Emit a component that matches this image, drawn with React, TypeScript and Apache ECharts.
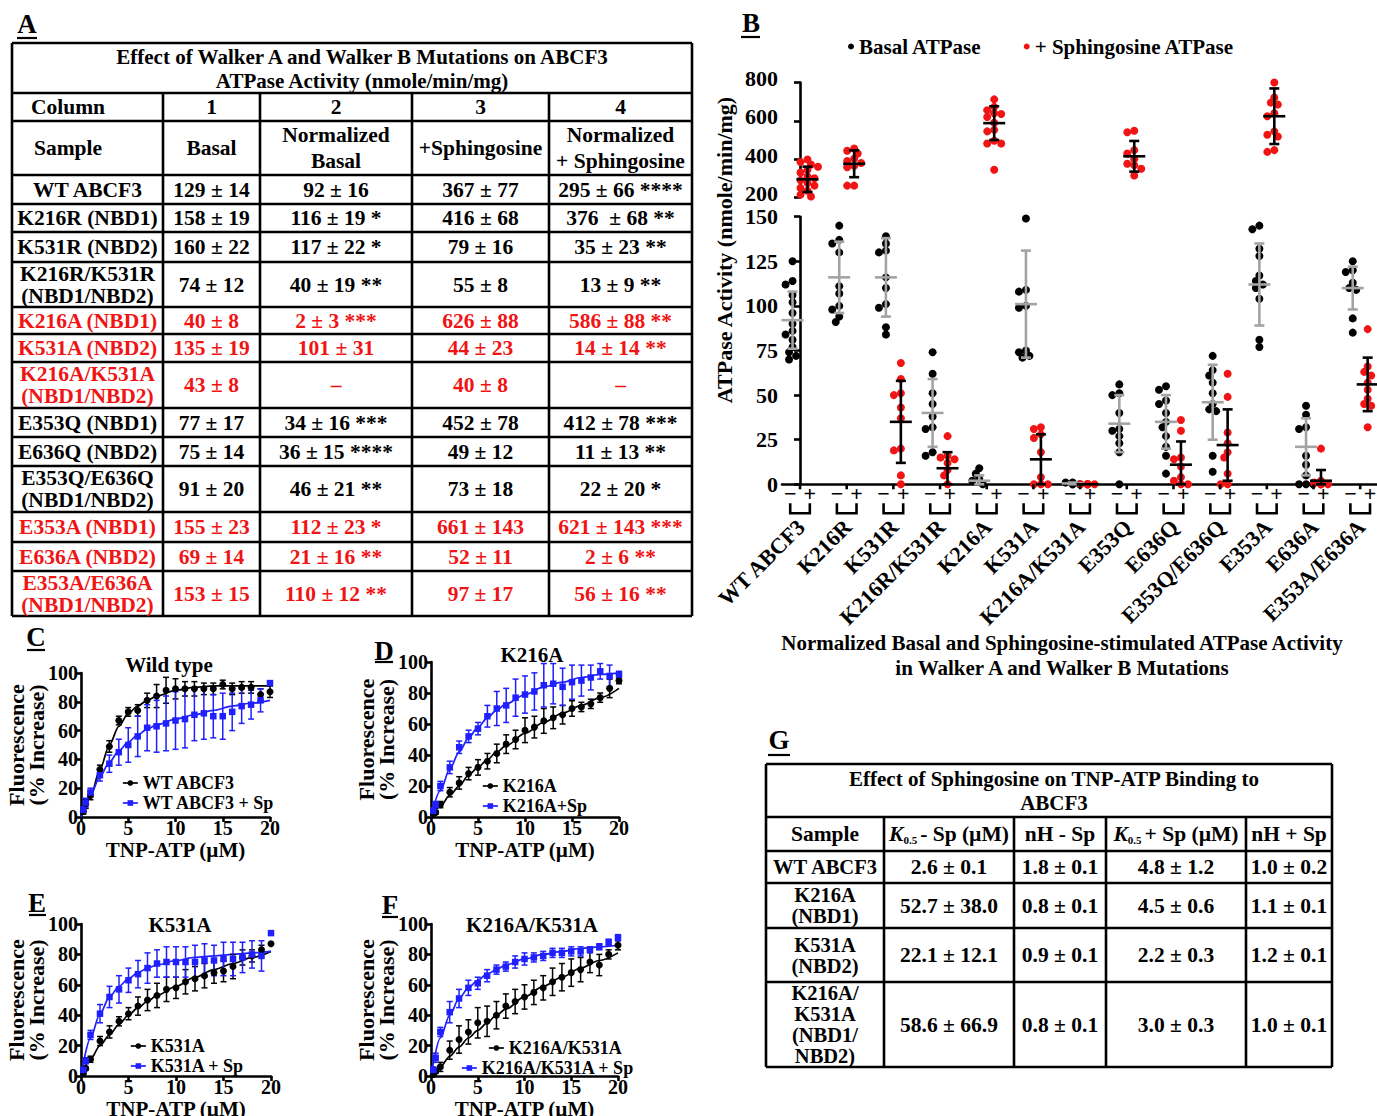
import React, { useEffect, useRef } from "react";
import * as echarts from "echarts";

const FONT = "'Liberation Serif', 'Times New Roman', Times, serif";
const BLACK = "#000000";
const RED = "#f01414";
const BLUE = "#1f1fff";
const GRAY = "#a3a3a3";

// ---------------- Panel B data ----------------
const groupNames = ["WT ABCF3", "K216R", "K531R", "K216R/K531R", "K216A", "K531A", "K216A/K531A", "E353Q", "E636Q", "E353Q/E636Q", "E353A", "E636A", "E353A/E636A"];
const basalDots = [
  [125, 114, 112, 106, 102, 96, 90, 86, 84, 81, 77, 74, 72, 70],
  [145, 137, 135, 130, 111, 107, 100, 98, 94, 91],
  [139, 135, 131, 130, 116, 110, 101, 99, 88, 84],
  [74, 62, 51, 45, 38, 32, 31, 18, 16],
  [9, 6, 3, 2, 0],
  [149, 109, 108, 100, 99, 75, 74, 72, 71],
  [1, 1, 0, 0, 0],
  [56, 51, 50, 40, 31, 30, 27, 23, 18, 0],
  [55, 53, 47, 45, 40, 35, 32, 27, 21, 16, 6],
  [72, 64, 61, 57, 51, 45, 42, 41, 16, 7],
  [145, 143, 132, 128, 117, 114, 112, 110, 104, 81, 77],
  [44, 39, 32, 31, 16, 11, 5, 0, 0, 0],
  [125, 120, 119, 113, 110, 109, 93, 85],
];
const sphDots = [
  [398, 385, 372, 360, 345, 330, 310, 300, 290, 275, 262, 250, 235, 215, 205],
  [456, 444, 430, 403, 390, 380, 365, 358, 262, 262],
  [68, 59, 51, 50, 43, 37, 20, 19, 5, 0],
  [27, 16, 15, 14, 12, 8, 5, 0],
  [712, 673, 655, 640, 636, 620, 590, 553, 545, 496, 482, 482, 345],
  [32, 31, 28, 26, 18, 4, 0, 0, 0],
  [0, 0, 0, 0, 0, 0],
  [548, 540, 447, 430, 400, 376, 368, 350, 315],
  [36, 30, 15, 14, 10, 4, 2, 0, 0],
  [62, 49, 29, 23, 18, 15, 6, 0, 0],
  [800, 722, 695, 685, 640, 624, 545, 527, 518, 447, 438],
  [20, 2, 1, 0, 0, 0, 0],
  [87, 66, 63, 61, 57, 53, 48, 45, 44, 32],
];
const basalMean = [92, 116, 116, 40, 2, 101, 0.5, 34, 35, 46, 112, 21, 110];
const basalSD = [16, 20, 22, 19, 3, 30, 0.5, 16, 15, 21, 23, 16, 12];
const sphMean = [295, 376, 35, 9, 588, 14, 0, 415, 11, 22, 624, 2, 56];
const sphSD = [66, 70, 23, 9, 88, 14, 0, 80, 13, 20, 145, 6, 15];

// ---------------- Panel A table ----------------
const tableATitle = ["Effect of Walker A and Walker B Mutations on ABCF3", "ATPase Activity (nmole/min/mg)"];
const tableAColumnRow = ["Column", "1", "2", "3", "4"];
const tableAHeader = ["Sample", "Basal", "Normalized\nBasal", "+Sphingosine", "Normalized\n+ Sphingosine"];
const tableASamples = ["WT ABCF3", "K216R (NBD1)", "K531R (NBD2)", "K216R/K531R\n(NBD1/NBD2)", "K216A (NBD1)", "K531A (NBD2)", "K216A/K531A\n(NBD1/NBD2)", "E353Q (NBD1)", "E636Q (NBD2)", "E353Q/E636Q\n(NBD1/NBD2)", "E353A (NBD1)", "E636A (NBD2)", "E353A/E636A\n(NBD1/NBD2)"];
const tableABasal = ["129 ± 14", "158 ± 19", "160 ± 22", "74 ± 12", "40 ± 8", "135 ± 19", "43 ± 8", "77 ± 17", "75 ± 14", "91 ± 20", "155 ± 23", "69 ± 14", "153 ± 15"];
const tableANormBasal = ["92 ± 16", "116 ± 19 *", "117 ± 22 *", "40 ± 19 **", "2 ± 3 ***", "101 ± 31", "–", "34 ± 16 ***", "36 ± 15 ****", "46 ± 21 **", "112 ± 23 *", "21 ± 16 **", "110 ± 12 **"];
const tableASph = ["367 ± 77", "416 ± 68", "79 ± 16", "55 ± 8", "626 ± 88", "44 ± 23", "40 ± 8", "452 ± 78", "49 ± 12", "73 ± 18", "661 ± 143", "52 ± 11", "97 ± 17"];
const tableANormSph = ["295 ± 66 ****", "376  ± 68 **", "35 ± 23 **", "13 ± 9 **", "586 ± 88 **", "14 ± 14 **", "–", "412 ± 78 ***", "11 ± 13 **", "22 ± 20 *", "621 ± 143 ***", "2 ± 6 **", "56 ± 16 **"];
const tableARed = [false, false, false, false, true, true, true, false, false, false, true, true, true];

// ---------------- Panel G table ----------------
const tableGTitle = ["Effect of Sphingosine on TNP-ATP Binding to", "ABCF3"];
const tableGHeader = ["Sample", "{k|K}{s|0.5}{n|- Sp (µM)}", "nH - Sp", "{k|K}{s|0.5}{n|+ Sp (µM)}", "nH + Sp"];
const tableGSamples = ["WT ABCF3", "K216A\n(NBD1)", "K531A\n(NBD2)", "K216A/\nK531A\n(NBD1/\nNBD2)"];
const tableGK05Minus = ["2.6 ± 0.1", "52.7 ± 38.0", "22.1 ± 12.1", "58.6 ± 66.9"];
const tableGnHMinus = ["1.8 ± 0.1", "0.8 ± 0.1", "0.9 ± 0.1", "0.8 ± 0.1"];
const tableGK05Plus = ["4.8 ± 1.2", "4.5 ± 0.6", "2.2 ± 0.3", "3.0 ± 0.3"];
const tableGnHPlus = ["1.0 ± 0.2", "1.1 ± 0.1", "1.2 ± 0.1", "1.0 ± 0.1"];

// ---------------- Panels C–F data ----------------
const tnpX = [0.25, 0.5, 1, 2, 3, 4, 5, 6, 7, 8, 9, 10, 11, 12, 13, 14, 15, 16, 17, 18, 19, 20];
const fitX = [0, 1, 2, 3, 4, 5, 6, 7, 8, 10, 12, 14, 16, 18, 20];

const wtMean = [4, 9, 15, 33, 49, 67, 73, 74, 81, 84, 88, 89, 89, 89, 89, 89, 92, 89, 90, 90, 85, 87];
const wtSD = [2, 3, 3, 3, 4, 3, 3, 4, 5, 8, 9, 7, 5, 5, 4, 4, 3, 4, 4, 4, 4, 4];
const wtSpMean = [5, 10, 17, 29, 37, 45, 50, 56, 62, 63, 65, 67, 68, 71, 72, 70, 70, 73, 77, 78, 81, 93];
const wtSpSD = [2, 3, 3, 4, 6, 9, 12, 14, 16, 18, 19, 20, 20, 18, 18, 15, 16, 13, 12, 10, 8, 0];
const wtFit = [0, 14, 33, 50, 63, 72, 77, 81, 84, 88, 90, 91, 91, 91, 91];
const wtSpFit = [0, 15, 28, 38, 46, 52, 57, 61, 64, 68, 71, 74, 77, 79, 81];

const k216aMean = [2, 3, 8, 16, 22, 28, 32, 36, 41, 47, 50, 56, 58, 62, 64, 66, 70, 71, 73, 77, 83, 88];
const k216aSD = [1, 1, 2, 3, 4, 4, 5, 5, 6, 6, 6, 8, 7, 8, 7, 6, 5, 3, 3, 3, 6, 2];
const k216aSpMean = [4, 8, 20, 32, 45, 52, 57, 65, 70, 72, 77, 79, 81, 85, 86, 84, 87, 88, 90, 94, 91, 92];
const k216aSpSD = [2, 2, 3, 4, 4, 4, 4, 7, 11, 11, 12, 12, 12, 14, 13, 12, 11, 10, 8, 5, 7, 2];
const k216aFit = [0, 7, 14, 20, 27, 32, 37, 42, 46, 54, 61, 67, 72, 77, 83];
const k216aSpFit = [0, 17, 31, 42, 51, 58, 64, 69, 73, 79, 84, 87, 90, 92, 93];

const k531aMean = [2, 5, 11, 23, 29, 36, 41, 46, 50, 53, 57, 58, 62, 64, 66, 68, 69, 72, 78, 79, 83, 87];
const k531aSD = [1, 1, 2, 3, 4, 3, 4, 6, 7, 8, 8, 7, 8, 8, 8, 7, 7, 8, 5, 4, 3, 0];
const k531aSpMean = [4, 10, 27, 41, 52, 57, 63, 67, 71, 74, 75, 75, 75, 75, 76, 76, 77, 77, 78, 80, 79, 94];
const k531aSpSD = [2, 2, 3, 6, 7, 9, 8, 9, 10, 9, 10, 10, 10, 11, 11, 10, 11, 11, 10, 9, 10, 0];
const k531aFit = [0, 11, 20, 27, 34, 40, 45, 49, 53, 59, 65, 70, 74, 78, 82];
const k531aSpFit = [0, 25, 41, 52, 59, 64, 68, 71, 73, 76, 78, 79, 80, 81, 82];

const dblMean = [1, 3, 6, 17, 24, 29, 35, 36, 40, 46, 49, 52, 55, 58, 62, 65, 68, 70, 75, 73, 80, 86];
const dblSD = [1, 1, 3, 6, 9, 8, 10, 10, 9, 8, 8, 8, 8, 8, 9, 9, 9, 8, 7, 7, 3, 3];
const dblSpMean = [4, 12, 29, 42, 51, 58, 61, 66, 70, 72, 75, 77, 78, 79, 81, 81, 82, 82, 83, 85, 88, 91];
const dblSpSD = [2, 3, 3, 7, 6, 5, 4, 4, 3, 3, 4, 4, 3, 3, 3, 3, 3, 3, 2, 2, 2, 2];
const dblFit = [0, 6, 13, 19, 25, 30, 35, 40, 44, 52, 59, 65, 71, 76, 81];
const dblSpFit = [0, 25, 40, 51, 58, 63, 67, 70, 73, 77, 80, 82, 84, 85, 86];

// ---------------- Layout ----------------
const LB = {
  top: { left: 782, top: 82.5, width: 595, height: 115 },
  bot: { left: 782, top: 216.7, width: 595, height: 267.6 },
  xMin: -0.386,
  xMax: 12.36,
};
const panelLayout = [
  { grid: { left: 81, top: 673, width: 189, height: 144 }, letter: [36, 637, 27, 45, 650], title: [169, 665], legend: [{ left: 117, top: 769, orient: "vertical" }] },
  { grid: { left: 431, top: 662, width: 188, height: 155 }, letter: [384, 651, 375, 393, 662], title: [532, 655], legend: [{ left: 477, top: 772, orient: "vertical" }] },
  { grid: { left: 81, top: 924, width: 190, height: 152 }, letter: [37, 903, 29, 46, 915], title: [180, 925], legend: [{ left: 125, top: 1032, orient: "vertical" }] },
  { grid: { left: 431, top: 924, width: 187, height: 152 }, letter: [390, 905, 382, 398, 917], title: [532, 925], legend: [{ left: 483, top: 1034 }, { left: 456, top: 1054 }] },
];
const panels = [
  { letter: "C", title: "Wild type", names: ["WT ABCF3", "WT ABCF3 + Sp"], mean: [wtMean, wtSpMean], sd: [wtSD, wtSpSD], fit: [wtFit, wtSpFit] },
  { letter: "D", title: "K216A", names: ["K216A", "K216A+Sp"], mean: [k216aMean, k216aSpMean], sd: [k216aSD, k216aSpSD], fit: [k216aFit, k216aSpFit] },
  { letter: "E", title: "K531A", names: ["K531A", "K531A + Sp"], mean: [k531aMean, k531aSpMean], sd: [k531aSD, k531aSpSD], fit: [k531aFit, k531aSpFit] },
  { letter: "F", title: "K216A/K531A", names: ["K216A/K531A", "K216A/K531A + Sp"], mean: [dblMean, dblSpMean], sd: [dblSD, dblSpSD], fit: [dblFit, dblSpFit] },
];

// ---------------- helpers ----------------
const T = (x: number, y: number, text: string, o: any = {}) => {
  const style: any = {
    text,
    fill: o.color ?? BLACK,
    fontFamily: FONT,
    fontWeight: "bold",
    fontSize: o.size ?? 20,
    align: o.align ?? "center",
    verticalAlign: "middle",
    lineHeight: o.lh ?? 22,
  };
  if (o.rich) style.rich = o.rich;
  return { type: "text", x, y, rotation: o.rot ?? 0, silent: true, z: 10, style };
};
const Ln = (x1: number, y1: number, x2: number, y2: number, w = 2.6) => ({
  type: "line",
  silent: true,
  z: 10,
  shape: { x1, y1, x2, y2 },
  style: { stroke: BLACK, lineWidth: w },
});

function swarm(values: number[], center: number, pxPerY: number, pxPerX: number) {
  const placed: [number, number][] = [];
  const steps = [0, -1, 1, -2, 2, -3, 3];
  return values.map((v) => {
    const py = v * pxPerY;
    let dx = 0;
    for (const s of steps) {
      const cand = s * 3.5;
      if (placed.every(([qx, qy]) => (qx - cand) ** 2 + (qy - py) ** 2 >= 36)) {
        dx = cand;
        break;
      }
    }
    placed.push([dx, py]);
    return [center + dx / pxPerX, v];
  });
}

const errRender = (color: string, cap: number, lw: number, mid: number) => (params: any, api: any) => {
  const x = api.value(0);
  const m = api.value(1);
  const s = api.value(2);
  const hi = api.coord([x, m + s]);
  const lo = api.coord([x, Math.max(m - s, 0)]);
  const c = api.coord([x, m]);
  const st = { stroke: color, lineWidth: lw };
  const ch: any[] = [];
  if (s > 0) {
    ch.push({ type: "line", shape: { x1: hi[0], y1: hi[1], x2: lo[0], y2: lo[1] }, style: st });
    ch.push({ type: "line", shape: { x1: hi[0] - cap, y1: hi[1], x2: hi[0] + cap, y2: hi[1] }, style: st });
    ch.push({ type: "line", shape: { x1: lo[0] - cap, y1: lo[1], x2: lo[0] + cap, y2: lo[1] }, style: st });
  }
  if (mid) ch.push({ type: "line", shape: { x1: c[0] - mid, y1: c[1], x2: c[0] + mid, y2: c[1] }, style: st });
  return { type: "group", children: ch };
};

function buildOption() {
  const axisLineStyle = { color: BLACK, width: 2.6 };
  const lab = (fs: number, margin = 5) => ({ color: BLACK, fontFamily: FONT, fontWeight: "bold", fontSize: fs, margin });

  const grids: any[] = [
    { ...LB.top, containLabel: false, outerBoundsMode: "none" },
    { ...LB.bot, containLabel: false, outerBoundsMode: "none" },
    ...panelLayout.map((p) => ({ ...p.grid, containLabel: false, outerBoundsMode: "none" })),
  ];

  const xAxes: any[] = [
    { gridIndex: 0, type: "value", min: LB.xMin, max: LB.xMax, show: false },
    {
      gridIndex: 1, type: "value", min: LB.xMin, max: LB.xMax,
      axisLine: { show: true, onZero: false, lineStyle: axisLineStyle },
      axisTick: { show: false }, axisLabel: { show: false }, splitLine: { show: false },
    },
    ...panelLayout.map((_, i) => ({
      gridIndex: 2 + i, type: "value", min: 0, max: 20, interval: 5,
      name: "TNP-ATP (µM)", nameLocation: "middle", nameGap: 23, nameMoveOverlap: false,
      nameTextStyle: { color: BLACK, fontFamily: FONT, fontWeight: "bold", fontSize: 21, lineHeight: 20 },
      axisLine: { show: true, onZero: false, lineStyle: axisLineStyle },
      axisTick: { show: true, length: 5, lineStyle: axisLineStyle },
      axisLabel: { ...lab(20, 2), lineHeight: 18 },
      splitLine: { show: false },
    })),
  ];

  const yAxes: any[] = [
    {
      gridIndex: 0, type: "value", min: 200, max: 800, interval: 200,
      axisLine: { show: true, lineStyle: axisLineStyle },
      axisTick: { show: true, length: 6, lineStyle: axisLineStyle },
      axisLabel: { ...lab(22, 4), lineHeight: 16, verticalAlign: "bottom", padding: [0, 0, -4, 0] }, splitLine: { show: false },
    },
    {
      gridIndex: 1, type: "value", min: 0, max: 150, interval: 25,
      axisLine: { show: true, lineStyle: axisLineStyle },
      axisTick: { show: true, length: 6, lineStyle: axisLineStyle },
      axisLabel: { ...lab(22, 4), lineHeight: 16 }, splitLine: { show: false },
    },
    ...panelLayout.map((_, i) => ({
      gridIndex: 2 + i, type: "value", min: 0, max: 100, interval: 20,
      name: "Fluorescence\n(% Increase)", nameLocation: "middle", nameGap: 35, nameMoveOverlap: false,
      nameTextStyle: { color: BLACK, fontFamily: FONT, fontWeight: "bold", fontSize: 22, lineHeight: 20 },
      axisLine: { show: true, lineStyle: axisLineStyle },
      axisTick: { show: true, length: 5, lineStyle: axisLineStyle },
      axisLabel: lab(20, 3),
      splitLine: { show: false },
    })),
  ];

  // ---- Panel B series ----
  const pxX = LB.bot.width / (LB.xMax - LB.xMin);
  const pxYBot = LB.bot.height / 150;
  const pxYTop = LB.top.height / 600;
  const isHigh = sphMean.map((m) => m > 150);
  const basalPts = groupNames.flatMap((_, g) => swarm(basalDots[g], g - 0.16, pxYBot, pxX));
  const sphLowPts = groupNames.flatMap((_, g) => (isHigh[g] ? [] : swarm(sphDots[g], g + 0.16, pxYBot, pxX)));
  const sphHighPts = groupNames.flatMap((_, g) => (isHigh[g] ? swarm(sphDots[g], g + 0.16, pxYTop, pxX) : []));

  const dotStyle = (c: string) => ({ color: c, opacity: 1 });
  const series: any[] = [
    { type: "scatter", name: "Basal ATPase", xAxisIndex: 1, yAxisIndex: 1, data: basalPts, symbol: "circle", symbolSize: 8, itemStyle: dotStyle(BLACK), z: 2 },
    { type: "scatter", name: "+ Sphingosine ATPase", xAxisIndex: 1, yAxisIndex: 1, data: sphLowPts, symbol: "circle", symbolSize: 8, itemStyle: dotStyle(RED), z: 2 },
    { type: "scatter", name: "+ Sphingosine ATPase", xAxisIndex: 0, yAxisIndex: 0, data: sphHighPts, symbol: "circle", symbolSize: 8, itemStyle: dotStyle(RED), z: 2 },
    {
      type: "custom", xAxisIndex: 1, yAxisIndex: 1, clip: false, silent: true, z: 3,
      data: groupNames.map((_, g) => [g - 0.16, basalMean[g], basalSD[g]]),
      renderItem: errRender(GRAY, 5, 2.6, 11),
    },
    {
      type: "custom", xAxisIndex: 1, yAxisIndex: 1, clip: false, silent: true, z: 3,
      data: groupNames.map((_, g) => [g + 0.16, sphMean[g], sphSD[g]]).filter((_, g) => !isHigh[g]),
      renderItem: errRender(BLACK, 5, 2.6, 11),
    },
    {
      type: "custom", xAxisIndex: 0, yAxisIndex: 0, clip: false, silent: true, z: 3,
      data: groupNames.map((_, g) => [g + 0.16, sphMean[g], sphSD[g]]).filter((_, g) => isHigh[g]),
      renderItem: errRender(BLACK, 5, 2.6, 11),
    },
    {
      type: "custom", xAxisIndex: 1, yAxisIndex: 1, clip: false, silent: true, z: 5,
      data: groupNames.map((_, g) => [g, 0]),
      renderItem: (params: any, api: any) => {
        const g = api.value(0);
        const a = api.coord([g - 0.21, 0]);
        const b = api.coord([g + 0.21, 0]);
        const c = api.coord([g, 0]);
        const y0 = c[1];
        const st = { stroke: BLACK, lineWidth: 2.6 };
        const ts = (text: string, fs: number, align = "center") => ({
          text, fill: BLACK, fontFamily: FONT, fontWeight: "bold", fontSize: fs, align, verticalAlign: "middle",
        });
        return {
          type: "group",
          children: [
            { type: "line", shape: { x1: c[0], y1: y0, x2: c[0], y2: y0 + 5 }, style: st },
            { type: "text", x: a[0], y: y0 + 9, style: ts("−", 22) },
            { type: "text", x: b[0], y: y0 + 9, style: ts("+", 22) },
            { type: "polyline", shape: { points: [[a[0], y0 + 19], [a[0], y0 + 29], [b[0], y0 + 29], [b[0], y0 + 19]] }, style: { ...st, fill: "none" } },
            { type: "text", x: c[0] + 1, y: y0 + 39, rotation: Math.PI / 4, style: ts(groupNames[params.dataIndex], 22, "right") },
          ],
        };
      },
    },
  ];

  // ---- Panels C–F series ----
  const legends: any[] = [
    {
      data: ["Basal ATPase", "+ Sphingosine ATPase"], left: 843, top: 31, icon: "circle", itemWidth: 6, itemHeight: 6, itemGap: 42,
      selectedMode: false, textStyle: { color: BLACK, fontFamily: FONT, fontWeight: "bold", fontSize: 21 },
    },
  ];
  panels.forEach((p, i) => {
    const xi = 2 + i;
    [0, 1].forEach((k) => {
      const color = k === 0 ? BLACK : BLUE;
      const symbol = k === 0 ? "circle" : "rect";
      series.push({
        type: "line", name: p.names[k], xAxisIndex: xi, yAxisIndex: xi,
        data: fitX.map((x, j) => [x, p.fit[k][j]]), smooth: 0.3, smoothMonotone: "x",
        showSymbol: false, symbol, symbolSize: 7, lineStyle: { color, width: 1.7 }, itemStyle: { color, opacity: 1 }, z: 2, silent: true,
      });
      series.push({
        type: "custom", xAxisIndex: xi, yAxisIndex: xi, clip: false, silent: true, z: 3,
        data: tnpX.map((x, j) => [x, p.mean[k][j], p.sd[k][j]]),
        renderItem: errRender(color, 3, 1.5, 0),
      });
      series.push({
        type: "scatter", xAxisIndex: xi, yAxisIndex: xi, data: tnpX.map((x, j) => [x, p.mean[k][j]]),
        symbol, symbolSize: k === 0 ? 7 : 6.5, itemStyle: { color, opacity: 1 }, z: 4, silent: true,
      });
    });
    const lg = panelLayout[i].legend;
    const common = {
      itemWidth: 15, itemHeight: 7, itemGap: 2, selectedMode: false,
      textStyle: { color: BLACK, fontFamily: FONT, fontWeight: "bold", fontSize: 18, lineHeight: 18 },
      lineStyle: { width: 1.7 },
    };
    if (lg.length === 1) {
      legends.push({ ...common, ...lg[0], data: p.names });
    } else {
      legends.push({ ...common, ...lg[0], data: [p.names[0]] });
      legends.push({ ...common, ...lg[1], data: [p.names[1]] });
    }
  });

  // ---- Graphics: tables, letters, titles ----
  const els: any[] = [];
  const letter = (ch: string, x: number, y: number, ux1: number, ux2: number, uy: number) => {
    els.push(T(x, y, ch, { size: 27 }));
    els.push(Ln(ux1, uy, ux2, uy, 2.2));
  };
  letter("A", 27, 24, 17, 37, 38);
  letter("B", 751, 23, 741, 760, 37);
  letter("G", 779, 740, 768, 790, 755);
  panels.forEach((p, i) => {
    const L = panelLayout[i];
    letter(p.letter, L.letter[0], L.letter[1], L.letter[2], L.letter[3], L.letter[4]);
    els.push(T(L.title[0], L.title[1], p.title, { size: 21 }));
  });
  els.push(T(724, 250, "ATPase Activity (nmole/min/mg)", { size: 22, rot: Math.PI / 2 }));
  els.push(T(1062, 643, "Normalized Basal and Sphingosine-stimulated ATPase Activity", { size: 21 }));
  els.push(T(1062, 668, "in Walker A and Walker B Mutations", { size: 21 }));

  // Table A
  const aCols = [12, 163, 260, 412, 549, 692];
  const aTop = 43;
  const aRows = [93, 121, 175, 204, 232, 262, 307, 334, 362, 408, 437, 466, 512, 542, 571, 616];
  const aBottom = aRows[aRows.length - 1];
  [aTop, ...aRows].forEach((y) => els.push(Ln(aCols[0], y, aCols[5], y)));
  aCols.forEach((x, j) => els.push(Ln(x, j === 0 || j === 5 ? aTop : aRows[0], x, aBottom)));
  els.push(T(362, 57, tableATitle[0], { size: 21 }));
  els.push(T(362, 81, tableATitle[1], { size: 21 }));
  const aMid = (j: number) => (aCols[j] + aCols[j + 1]) / 2;
  const rowMid = (rows: number[], r: number) => (rows[r] + rows[r + 1]) / 2;
  const AFS = 21.5;
  tableAColumnRow.forEach((t, j) => els.push(T(j === 0 ? 68 : aMid(j), rowMid(aRows, 0), t, { size: AFS })));
  tableAHeader.forEach((t, j) => els.push(T(j === 0 ? 68 : aMid(j), rowMid(aRows, 1), t, { lh: 26, size: AFS })));
  tableASamples.forEach((s, r) => {
    const y = rowMid(aRows, r + 2);
    const color = tableARed[r] ? RED : BLACK;
    [s, tableABasal[r], tableANormBasal[r], tableASph[r], tableANormSph[r]].forEach((t, j) =>
      els.push(T(aMid(j), y, t, { color, lh: 22, size: AFS }))
    );
  });

  // Table G
  const gCols = [766, 884, 1014, 1106, 1246, 1332];
  const gTop = 764;
  const gRows = [817, 851, 883, 928, 982, 1067];
  const gBottom = gRows[gRows.length - 1];
  [gTop, ...gRows].forEach((y) => els.push(Ln(gCols[0], y, gCols[5], y)));
  gCols.forEach((x, j) => els.push(Ln(x, j === 0 || j === 5 ? gTop : gRows[0], x, gBottom)));
  els.push(T(1054, 779, tableGTitle[0], { size: 21 }));
  els.push(T(1054, 803, tableGTitle[1], { size: 21 }));
  const gMid = (j: number) => (gCols[j] + gCols[j + 1]) / 2;
  const GFS = 21.5;
  const rich = {
    k: { fontFamily: FONT, fontWeight: "bold", fontStyle: "italic", fontSize: GFS, lineHeight: 22, verticalAlign: "middle" },
    s: { fontFamily: FONT, fontWeight: "bold", fontSize: 11, lineHeight: 10, verticalAlign: "bottom", padding: [0, 3, 0, 0] },
    n: { fontFamily: FONT, fontWeight: "bold", fontSize: GFS, lineHeight: 22, verticalAlign: "middle" },
  };
  tableGHeader.forEach((t, j) => els.push(T(gMid(j), rowMid(gRows, 0), t, { rich, size: GFS })));
  tableGSamples.forEach((s, r) => {
    const y = rowMid(gRows, r + 1);
    [s, tableGK05Minus[r], tableGnHMinus[r], tableGK05Plus[r], tableGnHPlus[r]].forEach((t, j) =>
      els.push(T(gMid(j), y, t, j === 0 ? { lh: 21, size: 20.5 } : { lh: 21, size: GFS }))
    );
  });

  return {
    animation: false,
    backgroundColor: "#ffffff",
    textStyle: { fontFamily: FONT },
    grid: grids,
    xAxis: xAxes,
    yAxis: yAxes,
    legend: legends,
    series,
    graphic: { elements: els },
  };
}

export default function App() {
  const ref = useRef<HTMLDivElement>(null);
  useEffect(() => {
    if (!ref.current) return;
    const chart = echarts.init(ref.current, null, { renderer: "svg" });
    chart.setOption(buildOption() as any);
    return () => chart.dispose();
  }, []);
  return (
    <div
      ref={ref}
      style={{ position: "absolute", left: 0, top: 0, width: 1377, height: 1116, background: "#ffffff" }}
    />
  );
}
